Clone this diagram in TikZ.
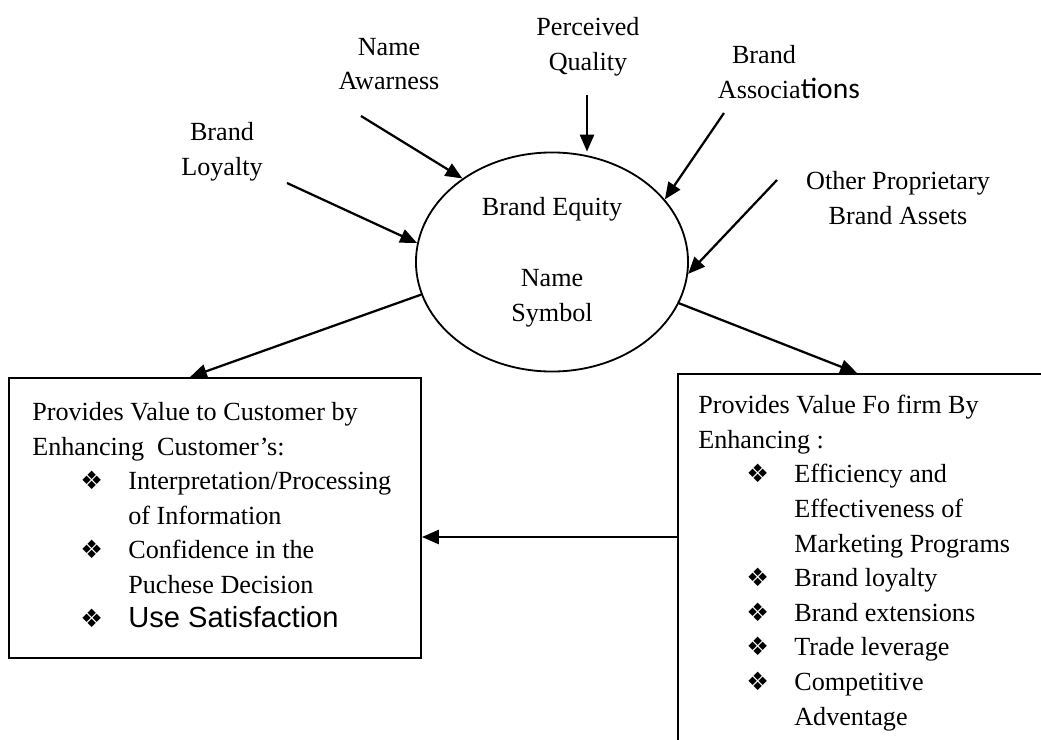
\documentclass[tikz,border=0pt]{standalone}
\usepackage{fontspec}
\setmainfont{Liberation Serif}
\newfontfamily\arialfont{Liberation Sans}
\newfontfamily\calfont{Carlito}
\newfontfamily\dingfont{DejaVu Sans}
\usetikzlibrary{arrows.meta,shapes.geometric}

\newcommand{\bul}{\hspace*{1.2cm}\makebox[1.2cm][l]{\dingfont\fontsize{18pt}{18pt}\selectfont ❖}}
\newcommand{\cont}{\hspace*{2.4cm}}

\tikzset{
  lbl/.style={align=center, font=\fontsize{18.6pt}{24.6pt}\selectfont},
  boxtxt/.style={align=left, anchor=north west, inner sep=0pt, font=\fontsize{18.6pt}{24.6pt}\selectfont},
  arr/.style={-{Triangle[length=12pt,width=10pt]}, line width=1.6pt},
  frame/.style={draw, line width=1.3pt, inner sep=0pt}
}

\begin{document}
\begin{tikzpicture}[x=0.025cm, y=-0.025cm]
        \useasboundingbox (0,0) rectangle (1041,740);
        \clip (0,0) rectangle (1041,740);

        \node [ellipse, draw, line width=1.3pt, minimum width=6.8cm, minimum height=5.475cm, inner sep=0pt, lbl] (equity) at (552,262) {Brand Equity\\[26pt]Name\\Symbol};

        \node [lbl] (loyalty) at (222,152) {Brand\\Loyalty};
        \node [lbl] (aware) at (389,64) {Name\\Awarness};
        \node [lbl] (quality) at (588,47) {Perceived\\Quality};
        \node [lbl, align=left, anchor=west] (assoc) at (713,72) {\hspace*{10pt}Brand\\Associa{\calfont\fontsize{21pt}{24.6pt}\selectfont tions}};
        \node [lbl] (other) at (898,198) {Other Proprietary\\Brand Assets};

        \coordinate (loyaltyTail) at (287,183);
        \coordinate (awareTail) at (361,116);
        \coordinate (qualityTail) at (587,95);
        \coordinate (assocTail) at (724,113);
        \coordinate (otherTail) at (777,180);

        \draw [arr] (loyaltyTail) -- (equity.172);
        \draw [arr] (awareTail) -- (equity.137);
        \draw [arr] (qualityTail) -- (qualityTail |- equity.north);
        \draw [arr] (assocTail) -- (equity.29);
        \draw [arr] (otherTail) -- (equity.-5);

        \node [frame, minimum width=10.3cm, minimum height=7cm] (custbox) at (215,518) {};
        \node [frame, minimum width=10.05cm, minimum height=10.65cm] (firmbox) at (879,587) {};

        \draw [arr] (equity.194) -- ([xshift=-0.625cm]custbox.north);
        \draw [arr] (equity.-18) -- ([xshift=4.5cm]firmbox.north west);
        \coordinate (arrowY) at ([yshift=-0.475cm]custbox.east);
        \draw [arr] (arrowY -| firmbox.west) -- (arrowY);

        \node [boxtxt] (custtext) at (32,402) {Provides Value to Customer by\\
                Enhancing\ \ Customer's:\\
                \bul Interpretation/Processing\\
                \cont of Information\\
                \bul Confidence in the\\
                \cont Puchese Decision\\
                \bul{\arialfont\fontsize{20.7pt}{24.6pt}\selectfont Use Satisfaction}};

        \node [boxtxt] (firmtext) at (698,395) {Provides Value Fo firm By\\
                Enhancing :\\
                \bul Efficiency and\\
                \cont Effectiveness of\\
                \cont Marketing Programs\\
                \bul Brand loyalty\\
                \bul Brand extensions\\
                \bul Trade leverage\\
                \bul Competitive\\
                \cont Adventage};
\end{tikzpicture}
\end{document}
